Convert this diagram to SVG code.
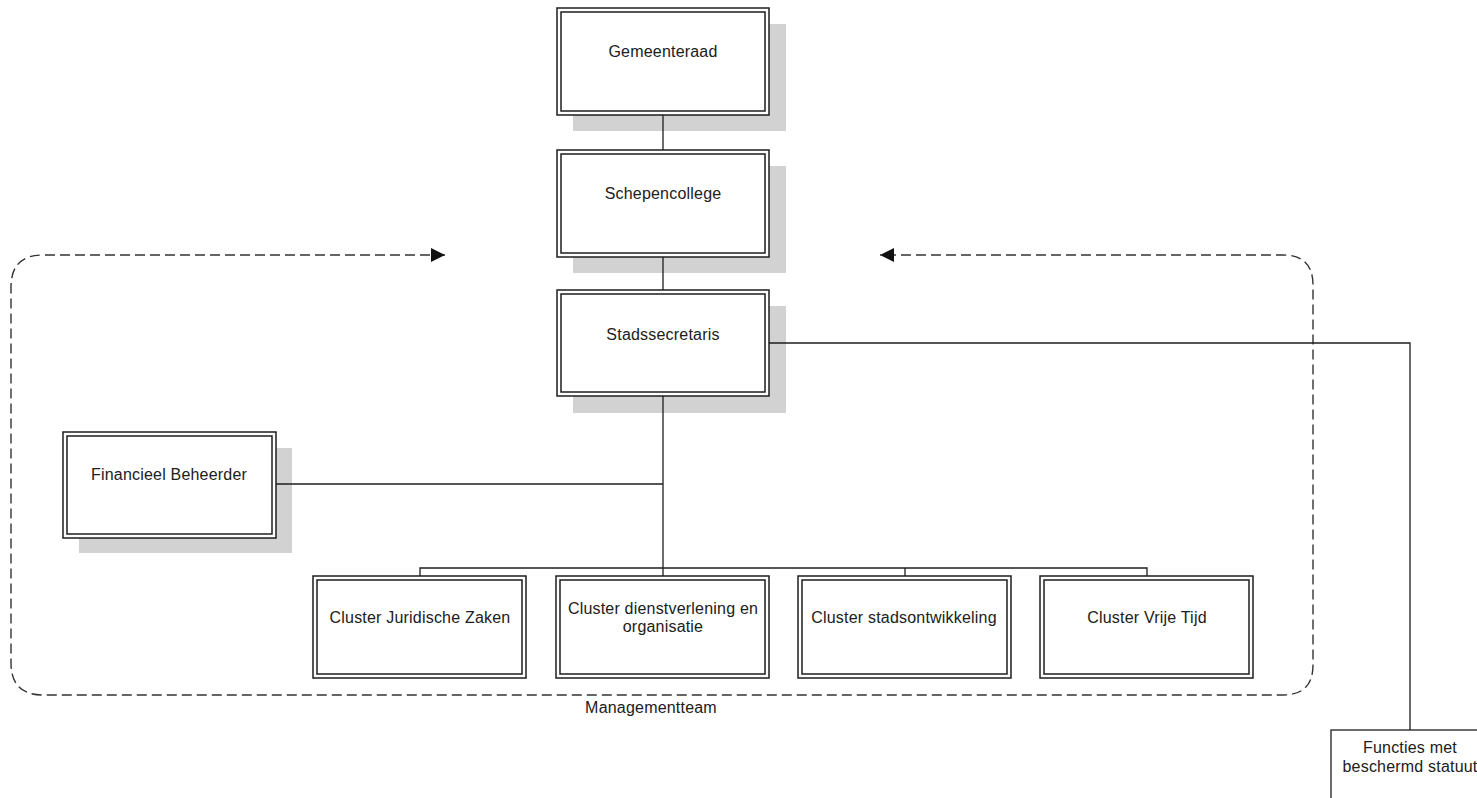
<svg xmlns="http://www.w3.org/2000/svg" width="1477" height="798" viewBox="0 0 1477 798">
<defs>
<style>
.shadow{fill:#d2d2d2;stroke:none}
.outer{fill:#fff;stroke:#1e1e1e;stroke-width:1.5}
.inner{fill:#fff;stroke:#1e1e1e;stroke-width:1.5}
.single{fill:#fff;stroke:#1e1e1e;stroke-width:1.3}
.lbl{font-family:"Liberation Sans",Arial,sans-serif;font-size:16px;letter-spacing:0.2px;fill:#202020;text-anchor:middle}
.conn{fill:none;stroke:#1e1e1e;stroke-width:1.3}
.dash{fill:none;stroke:#333;stroke-width:1.4;stroke-dasharray:10 5}
</style>
<marker id="arr" viewBox="0 0 10 10" refX="10" refY="5" markerWidth="14" markerHeight="14" markerUnits="userSpaceOnUse" orient="auto-start-reverse">
<path d="M0,0 L10,5 L0,10 z" fill="#111"/>
</marker>
</defs>
<rect width="1477" height="798" fill="#fff"/>

<g id="managementteam-group">
<path class="dash" d="M445,255 L43,255 Q11,255 11,287 L11,663 Q11,695 43,695 L1283,695 Q1313,695 1313,665 L1313,285 Q1313,255 1283,255 L880,255" marker-start="url(#arr)" marker-end="url(#arr)"/>
<text class="lbl" x="651" y="713">Managementteam</text>
</g>

<g id="gemeenteraad">
<rect class="shadow" x="573" y="24" width="213" height="107"/>
<rect class="outer" x="557" y="8" width="212" height="107"/>
<rect class="inner" x="561" y="12" width="204" height="99"/>
<text class="lbl" x="663" y="57">Gemeenteraad</text>
</g>

<g id="schepencollege">
<rect class="shadow" x="573" y="166" width="213" height="107"/>
<rect class="outer" x="557" y="150" width="212" height="107"/>
<rect class="inner" x="561" y="154" width="204" height="99"/>
<text class="lbl" x="663" y="199">Schepencollege</text>
</g>

<g id="stadssecretaris">
<rect class="shadow" x="573" y="306" width="213" height="107"/>
<rect class="outer" x="557" y="290" width="212" height="106"/>
<rect class="inner" x="561" y="294" width="204" height="98"/>
<text class="lbl" x="663" y="340">Stadssecretaris</text>
</g>

<g id="financieel-beheerder">
<rect class="shadow" x="79" y="448" width="213" height="105"/>
<rect class="outer" x="63" y="432" width="213" height="106"/>
<rect class="inner" x="67" y="436" width="205" height="98"/>
<text class="lbl" x="169" y="480">Financieel Beheerder</text>
</g>

<g id="cluster-juridische-zaken">
<rect class="outer" x="313" y="576" width="213" height="102"/>
<rect class="inner" x="317" y="580" width="205" height="94"/>
<text class="lbl" x="420" y="623">Cluster Juridische Zaken</text>
</g>

<g id="cluster-dienstverlening">
<rect class="outer" x="556" y="576" width="213" height="102"/>
<rect class="inner" x="560" y="580" width="205" height="94"/>
<text class="lbl" x="663" y="614">Cluster dienstverlening en</text>
<text class="lbl" x="663" y="632">organisatie</text>
</g>

<g id="cluster-stadsontwikkeling">
<rect class="outer" x="798" y="576" width="213" height="102"/>
<rect class="inner" x="802" y="580" width="205" height="94"/>
<text class="lbl" x="904" y="623">Cluster stadsontwikkeling</text>
</g>

<g id="cluster-vrije-tijd">
<rect class="outer" x="1040" y="576" width="213" height="102"/>
<rect class="inner" x="1044" y="580" width="205" height="94"/>
<text class="lbl" x="1147" y="623">Cluster Vrije Tijd</text>
</g>

<g id="functies-met-beschermd-statuut">
<rect class="single" x="1331" y="730" width="170" height="90"/>
<text class="lbl" x="1410" y="753">Functies met</text>
<text class="lbl" x="1410" y="772">beschermd statuut</text>
</g>

<g id="connectors">
<line class="conn" x1="663" y1="115" x2="663" y2="150"/>
<line class="conn" x1="663" y1="257" x2="663" y2="290"/>
<line class="conn" x1="663" y1="396" x2="663" y2="576"/>
<line class="conn" x1="276" y1="484" x2="663" y2="484"/>
<polyline class="conn" points="420,576 420,568 1147,568 1147,576"/>
<line class="conn" x1="905" y1="568" x2="905" y2="576"/>
<polyline class="conn" points="769,343 1410,343 1410,730"/>
</g>
</svg>
